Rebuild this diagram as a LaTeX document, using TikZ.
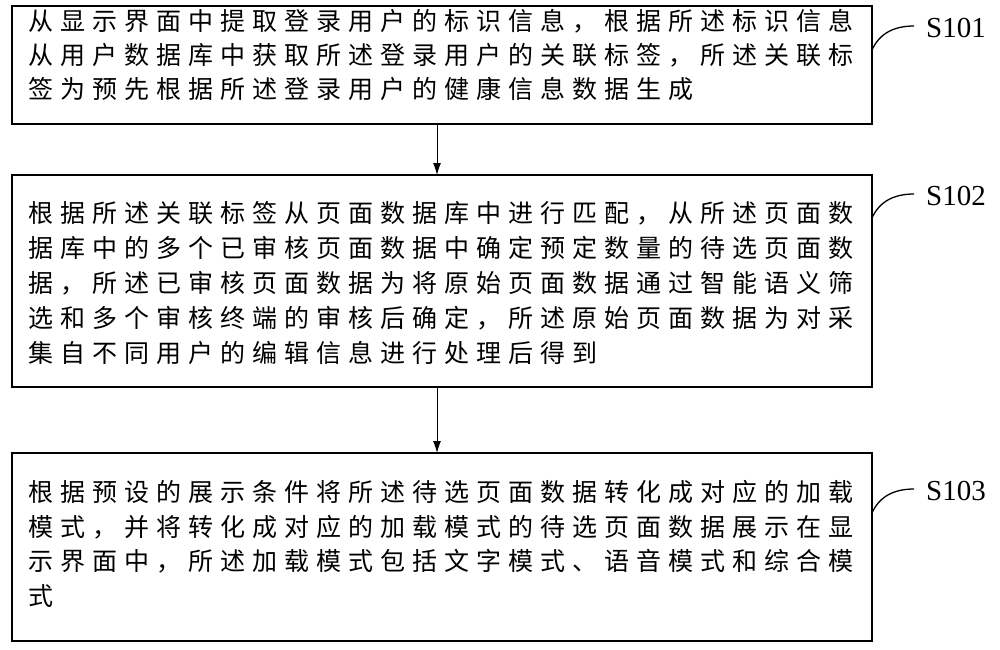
\documentclass[tikz,border=0pt]{standalone}
\usepackage{fontspec}
\newfontfamily\cjk[LetterSpace=28]{Noto Sans CJK SC}
\setmainfont{Liberation Serif}
\begin{document}
\begin{tikzpicture}[x=1pt,y=-1pt,
  stepbox/.style={draw,line width=1.3pt},
  ln/.style={anchor=west,inner sep=0pt,font=\cjk\fontsize{25}{25}\selectfont},
  lab/.style={font=\fontsize{29}{29}\selectfont,inner sep=0pt,anchor=west},
  arr/.style={-{Latex[length=12pt,width=8pt]},line width=1pt},
  lead/.style={line width=1.3pt}]
\usetikzlibrary{arrows.meta}
\useasboundingbox (0,0) rectangle (1000,649);
\draw[stepbox] (12,6) rectangle (872,124);
\coordinate (b1t) at (437,124);
\draw[stepbox] (12,175) rectangle (872,387);
\coordinate (b2t) at (437,175); \coordinate (b2b) at (437,387);
\draw[stepbox] (12,453) rectangle (872,641);
\coordinate (b3t) at (437,453);
\draw[arr] (b1t) -- (b2t);
\draw[arr] (b2b) -- (b3t);
\node[ln] (l11) at (28,21) {从显示界面中提取登录用户的标识信息，根据所述标识信息};
\node[ln] (l12) at (28,55) {从用户数据库中获取所述登录用户的关联标签，所述关联标};
\node[ln] (l13) at (28,89) {签为预先根据所述登录用户的健康信息数据生成};
\node[ln] (l21) at (28,213) {根据所述关联标签从页面数据库中进行匹配，从所述页面数};
\node[ln] (l22) at (28,248) {据库中的多个已审核页面数据中确定预定数量的待选页面数};
\node[ln] (l23) at (28,283) {据，所述已审核页面数据为将原始页面数据通过智能语义筛};
\node[ln] (l24) at (28,318) {选和多个审核终端的审核后确定，所述原始页面数据为对采};
\node[ln] (l25) at (28,353) {集自不同用户的编辑信息进行处理后得到};
\node[ln] (l31) at (28,492) {根据预设的展示条件将所述待选页面数据转化成对应的加载};
\node[ln] (l32) at (28,527) {模式，并将转化成对应的加载模式的待选页面数据展示在显};
\node[ln] (l33) at (28,561) {示界面中，所述加载模式包括文字模式、语音模式和综合模};
\node[ln] (l34) at (28,596) {式};
\node[lab] (s1) at (926,28) {S101};
\node[lab] (s2) at (926,196) {S102};
\node[lab] (s3) at (926,491) {S103};
\coordinate (e1) at (914,26); \coordinate (e2) at (914,194); \coordinate (e3) at (914,489);
\draw[lead] (872,50) .. controls (880,32) and (896,26) .. (e1);
\draw[lead] (872,218) .. controls (880,200) and (896,194) .. (e2);
\draw[lead] (872,513) .. controls (880,495) and (896,489) .. (e3);
\end{tikzpicture}
\end{document}
